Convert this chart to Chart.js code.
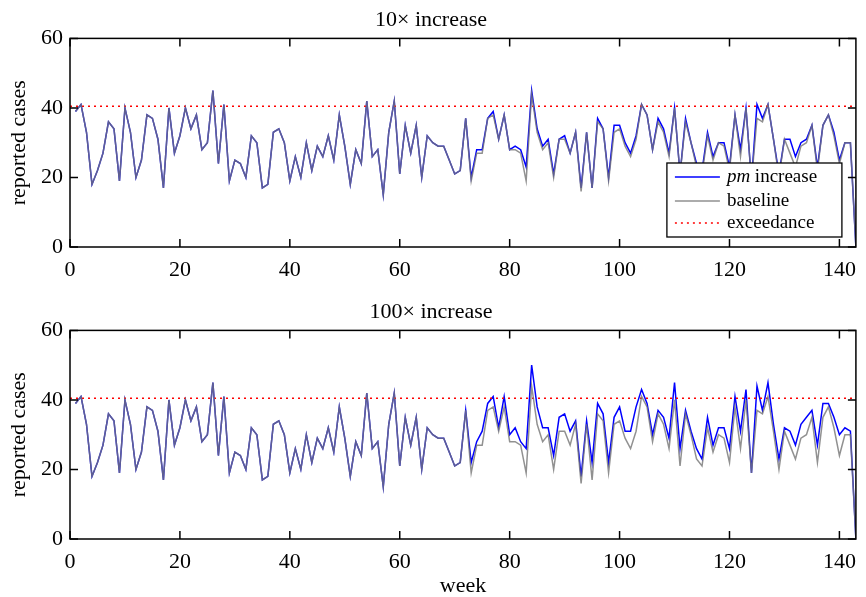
<!DOCTYPE html>
<html>
<head>
<meta charset="utf-8">
<script src="https://cdn.jsdelivr.net/npm/chart.js@4.4.0/dist/chart.umd.min.js"></script>
<style>
    body { margin: 0; background: #fff; }
    #wrap { position: relative; width: 866px; height: 597px; }
    .panel { position: absolute; left: 0; width: 866px; }
</style>
</head>
<body>
<div id="wrap">
    <div class="panel" style="top:0;height:292px"><canvas id="top_canvas" width="866" height="292"></canvas></div>
    <div class="panel" style="top:292px;height:305px"><canvas id="bottom_canvas" width="866" height="305"></canvas></div>
</div>
<script>
// weekly reported cases, weeks 1..143
const baseline = [
    39, 41, 33, 18, 22, 27, 36, 34, 19, 40, 33, 20, 25, 38, 37, 31, 17, 40, 27, 32,
    40, 34, 38, 28, 30, 45, 24, 41, 19, 25, 24, 20, 32, 30, 17, 18, 33, 34, 30, 19,
    26, 20, 30, 22, 29, 26, 32, 25, 38, 29, 18, 28, 24, 42, 26, 28, 15, 33, 42, 21,
    35, 27, 35, 20, 32, 30, 29, 29, 25, 21, 22, 37, 19, 27, 27, 37, 38, 31, 38, 28,
    28, 27, 19, 44, 33, 28, 30, 20, 31, 31, 27, 33, 16, 33, 17, 36, 34, 19, 33, 34,
    29, 26, 31, 41, 38, 28, 36, 33, 26, 40, 21, 36, 30, 23, 21, 32, 25, 30, 29, 22,
    38, 26, 40, 19, 37, 36, 41, 31, 20, 31, 27, 23, 29, 30, 35, 22, 35, 38, 32, 24,
    30, 30, 0
];
const pm10 = [
    39, 41, 33, 18, 22, 27, 36, 34, 19, 40, 33, 20, 25, 38, 37, 31, 17, 40, 27, 32,
    40, 34, 38, 28, 30, 45, 24, 41, 19, 25, 24, 20, 32, 30, 17, 18, 33, 34, 30, 19,
    26, 20, 30, 22, 29, 26, 32, 25, 38, 29, 18, 28, 24, 42, 26, 28, 15, 33, 42, 21,
    35, 27, 35, 20, 32, 30, 29, 29, 25, 21, 22, 37, 20, 28, 28, 37, 39, 31, 38, 28,
    29, 28, 23, 45, 34, 29, 31, 21, 31, 32, 27, 33, 17, 33, 17, 37, 34, 20, 35, 35,
    30, 27, 32, 41, 38, 28, 37, 34, 27, 40, 21, 37, 30, 24, 22, 33, 26, 30, 30, 23,
    38, 28, 40, 19, 41, 37, 41, 31, 21, 31, 31, 26, 30, 31, 35, 23, 35, 38, 33, 25,
    30, 30, 0
];
const pm100 = [
    39, 41, 33, 18, 22, 27, 36, 34, 19, 40, 33, 20, 25, 38, 37, 31, 17, 40, 27, 32,
    40, 34, 38, 28, 30, 45, 24, 41, 19, 25, 24, 20, 32, 30, 17, 18, 33, 34, 30, 19,
    26, 20, 30, 22, 29, 26, 32, 25, 38, 29, 18, 28, 24, 42, 26, 28, 15, 33, 42, 21,
    35, 27, 35, 20, 32, 30, 29, 29, 25, 21, 22, 37, 22, 28, 31, 39, 41, 32, 41, 30,
    32, 28, 26, 50, 38, 32, 32, 24, 35, 36, 31, 34, 18, 34, 22, 39, 36, 22, 35, 38,
    31, 31, 38, 43, 39, 30, 37, 35, 29, 45, 26, 37, 31, 26, 23, 35, 27, 32, 32, 26,
    41, 31, 43, 19, 44, 37, 45, 33, 23, 32, 31, 27, 33, 35, 37, 27, 39, 39, 35, 30,
    32, 31, 0
];
const weeks = Array.from({ length: baseline.length }, (_, i) => i + 1);
const threshold = 40.5;
const xMax = 143;
const yTicks = [0, 20, 40, 60];
const xTicks = [0, 20, 40, 60, 80, 100, 120, 140];

const serif = "'Liberation Serif', 'DejaVu Serif', serif";

const toPoints = (vals) => vals.map((v, i) => ({ x: weeks[i], y: v }));

// box round the plot with inward ticks on all four sides
const framePlugin = {
    id: 'frame',
    afterDatasetsDraw(chart) {
        const { ctx, chartArea: a, scales } = chart;
        ctx.save();
        ctx.strokeStyle = '#000';
        ctx.lineWidth = 1.5;
        ctx.strokeRect(a.left, a.top, a.right - a.left, a.bottom - a.top);
        ctx.beginPath();
        xTicks.forEach(t => {
            const px = scales.x.getPixelForValue(t);
            ctx.moveTo(px, a.bottom); ctx.lineTo(px, a.bottom - 8);
            ctx.moveTo(px, a.top); ctx.lineTo(px, a.top + 8);
        });
        yTicks.forEach(t => {
            const py = scales.y.getPixelForValue(t);
            ctx.moveTo(a.left, py); ctx.lineTo(a.left + 8, py);
            ctx.moveTo(a.right, py); ctx.lineTo(a.right - 8, py);
        });
        ctx.stroke();
        ctx.restore();
    }
};

// legend box inside the lower right corner (top panel only)
const boxLegend = {
    id: 'boxLegend',
    afterDraw(chart, args, opts) {
        if (!opts.show) return;
        const { ctx, chartArea: a } = chart;
        const w = 175, h = 74;
        const x0 = a.right - 14 - w, y0 = a.bottom - 10 - h;
        ctx.save();
        ctx.fillStyle = '#fff';
        ctx.fillRect(x0, y0, w, h);
        ctx.strokeStyle = '#000';
        ctx.lineWidth = 1.3;
        ctx.strokeRect(x0, y0, w, h);
        const rows = [14, 38, 60];
        chart.data.datasets.forEach((ds, i) => {
            const y = y0 + rows[i];
            ctx.strokeStyle = ds.borderColor;
            ctx.lineWidth = ds.borderWidth;
            ctx.setLineDash(ds.borderDash || []);
            ctx.beginPath();
            ctx.moveTo(x0 + 8, y); ctx.lineTo(x0 + 53, y);
            ctx.stroke();
            ctx.setLineDash([]);
            ctx.fillStyle = '#000';
            ctx.textBaseline = 'middle';
            ctx.textAlign = 'left';
            let tx = x0 + 60;
            if (ds.label.startsWith('pm')) {
                ctx.font = 'italic 19px ' + serif;
                ctx.fillText('pm', tx, y);
                tx += ctx.measureText('pm').width;
                ctx.font = '19px ' + serif;
                ctx.fillText(ds.label.slice(2), tx, y);
            } else {
                ctx.font = '19px ' + serif;
                ctx.fillText(ds.label, tx, y);
            }
        });
        ctx.restore();
    }
};

function makeConfig(title, pmData, showLegend, showWeek, xHeight) {
    return {
        type: 'line',
        data: {
            datasets: [
                { label: 'pm increase', data: toPoints(pmData), borderColor: '#0000ff', borderWidth: 1.5, pointRadius: 0, tension: 0, order: 2 },
                { label: 'baseline', data: toPoints(baseline), borderColor: 'rgba(118,118,118,0.8)', borderWidth: 1.5, pointRadius: 0, tension: 0, order: 0 },
                { label: 'exceedance', data: [{ x: 0, y: threshold }, { x: xMax, y: threshold }], borderColor: '#ff0000', borderWidth: 1.5, borderDash: [2, 4], pointRadius: 0, order: 1 }
            ]
        },
        options: {
            responsive: false,
            animation: false,
            layout: { padding: { left: 0, right: 4, top: 0, bottom: 0 } },
            plugins: {
                legend: { display: false },
                tooltip: { enabled: false },
                title: { display: true, text: title, color: '#000', font: { family: serif, size: 22, weight: 'normal' }, padding: { top: 7, bottom: 5 } },
                boxLegend: { show: showLegend }
            },
            scales: {
                x: {
                    type: 'linear', min: 0, max: xMax,
                    grid: { display: false, drawTicks: false },
                    border: { display: false },
                    ticks: { stepSize: 20, color: '#000', padding: 10, maxRotation: 0, font: { family: serif, size: 22 } },
                    afterBuildTicks: s => { s.ticks = xTicks.map(v => ({ value: v })); },
                    afterFit: s => { s.height = xHeight; },
                    title: { display: showWeek, text: 'week', color: '#000', font: { family: serif, size: 22, lineHeight: 1 }, padding: { top: 0, bottom: 0 } }
                },
                y: {
                    min: 0, max: 60,
                    grid: { display: false, drawTicks: false },
                    border: { display: false },
                    ticks: { stepSize: 20, color: '#000', padding: 7, font: { family: serif, size: 22 } },
                    afterFit: s => { s.width = 70; },
                    title: { display: true, text: 'reported cases', color: '#000', font: { family: serif, size: 22, lineHeight: 1 }, padding: { top: 8, bottom: 0 } }
                }
            }
        },
        plugins: [framePlugin, boxLegend]
    };
}

const chart_top = new Chart(document.getElementById('top_canvas').getContext('2d'),
    makeConfig('10\u00d7 increase', pm10, true, false, 45));
const chart_bottom = new Chart(document.getElementById('bottom_canvas').getContext('2d'),
    makeConfig('100\u00d7 increase', pm100, false, true, 58));
</script>
</body>
</html>
